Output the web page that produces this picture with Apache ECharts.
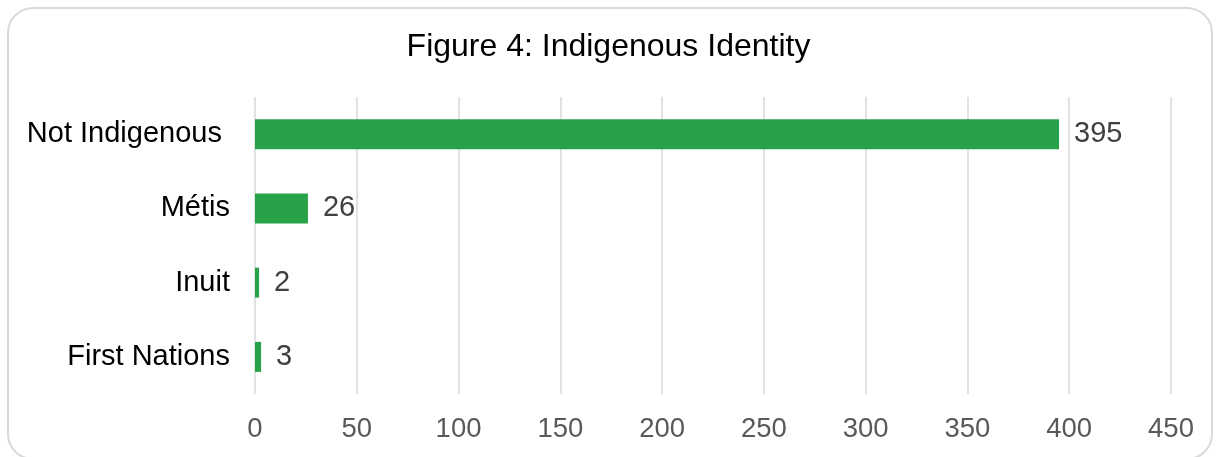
<!DOCTYPE html>
<html>
<head>
<meta charset="utf-8">
<script src="https://cdn.jsdelivr.net/npm/echarts@6/dist/echarts.min.js"></script>
<style>
html,body{margin:0;padding:0;background:#fff;}
#chart{position:absolute;left:0;top:0;width:1217px;height:457px;}
#frame{position:absolute;left:7px;top:7px;width:1202px;height:449px;border:2px solid #d9d9d9;border-radius:26px;pointer-events:none;}
</style>
</head>
<body>
<div id="chart"></div>
<div id="frame"></div>
<script>
const categories = ['Not Indigenous ', 'Métis', 'Inuit', 'First Nations'];
const values = [395, 26, 2, 3];
const xTicks = { min: 0, max: 450, interval: 50 };
const titleText = 'Figure 4: Indigenous Identity';

const chart = echarts.init(document.getElementById('chart'), null, { renderer: 'canvas' });
chart.setOption({
  animation: false,
  backgroundColor: 'transparent',
  title: {
    text: titleText,
    left: 'center',
    top: 26,
    textStyle: { fontFamily: 'Liberation Sans', fontSize: 32, fontWeight: 'normal', color: '#000' }
  },
  grid: { left: 255, right: 46, top: 97, bottom: 63, containLabel: false },
  xAxis: {
    type: 'value',
    min: xTicks.min, max: xTicks.max, interval: xTicks.interval,
    axisLine: { show: false },
    axisTick: { show: false },
    splitLine: { show: true, lineStyle: { color: '#d9d9d9', width: 1.5 } },
    axisLabel: { fontFamily: 'Liberation Sans', fontSize: 27.5, color: '#595959', margin: 21 }
  },
  yAxis: {
    type: 'category',
    data: categories,
    inverse: true,
    axisLine: { show: false },
    axisTick: { show: false },
    axisLabel: { fontFamily: 'Liberation Sans', fontSize: 29, color: '#000', margin: 25 }
  },
  series: [{
    type: 'bar',
    data: values,
    barWidth: 30,
    itemStyle: { color: '#27a248' },
    label: {
      show: true, position: 'right', distance: 15,
      fontFamily: 'Liberation Sans', fontSize: 29, color: '#404040'
    }
  }]
});
</script>
</body>
</html>
